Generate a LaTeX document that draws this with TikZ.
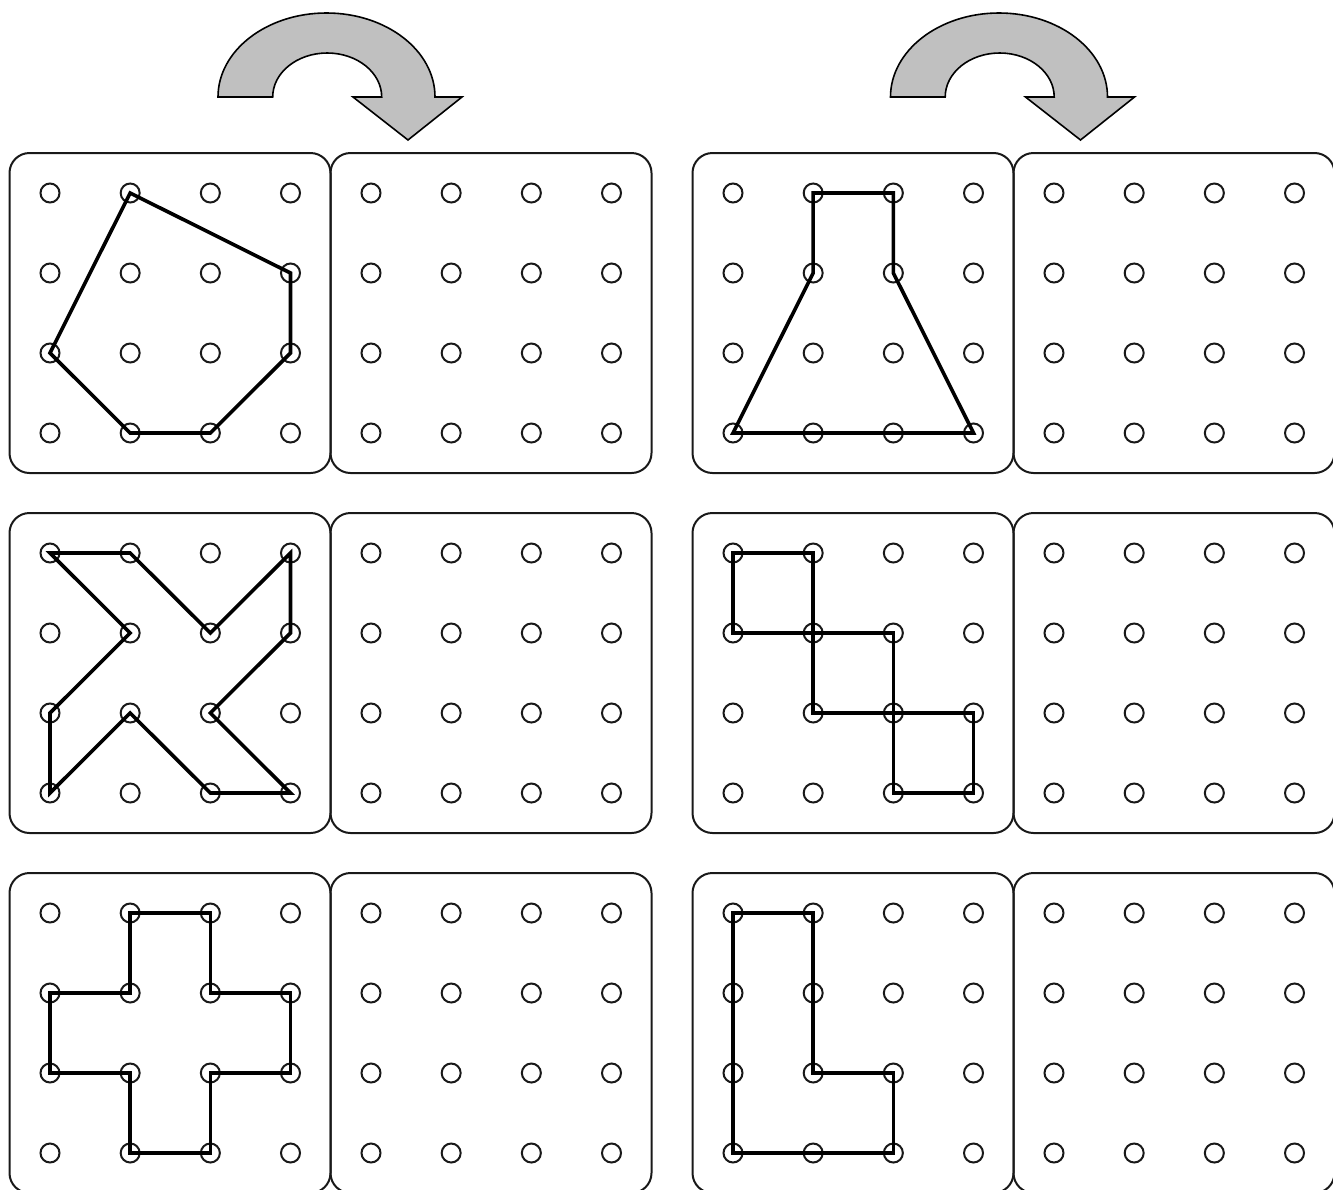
\documentclass[tikz,border=0pt]{standalone}
\usetikzlibrary{calc}
\definecolor{arrowgray}{RGB}{192,192,192}
\begin{document}
\begin{tikzpicture}[x=1pt,y=-1pt,
  board/.style={draw=black!90,line width=2pt,rounded corners=20pt},
  peg/.style={circle,draw=black!90,line width=2pt,minimum size=19pt,inner sep=0pt},
  band/.style={draw=black,line width=3.6pt,line join=miter},
  turnarrow/.style={draw=black,line width=1.6pt,fill=arrowgray,line join=miter}]
\useasboundingbox (0,0) rectangle (1333,1189);
\clip (0,0) rectangle (1333,1189);
% curved arrows
\foreach \dx in {0,672.5}{
\begin{scope}[xshift=\dx pt]
\draw[turnarrow] (218,97)
  .. controls (218,50.6) and (266.6,13) .. (326.5,13)
  .. controls (386.4,13) and (435,50.6) .. (435,97)
  -- (462,97) -- (408,140) -- (353,97) -- (381.7,97)
  .. controls (381.7,72.7) and (357.3,53) .. (327.2,53)
  .. controls (297.1,53) and (272.7,72.7) .. (272.7,97)
  -- cycle;
\end{scope}}
% boards and pegs
\foreach \n/\L/\T in {A1/9.5/153, A2/330.5/153, B1/692.5/153, B2/1013.5/153,
                      C1/9.5/513, C2/330.5/513, D1/692.5/513, D2/1013.5/513,
                      E1/9.5/873, E2/330.5/873, F1/692.5/873, F2/1013.5/873}{
  \draw[board] (\L,\T) rectangle ++(321,320);
  \foreach \c in {0,1,2,3}{
    \foreach \r in {0,1,2,3}{
      \node[peg] (\n-\c-\r) at ({\L+40.5+80.17*\c},{\T+40+80*\r}) {};
    }
  }
}
% heptagon
\draw[band] (A1-1-0.center) -- (A1-3-1.center) -- (A1-3-2.center) -- (A1-2-3.center)
  -- (A1-1-3.center) -- (A1-0-2.center) -- cycle;
% flask
\draw[band] (B1-1-0.center) -- (B1-2-0.center) -- (B1-2-1.center) -- (B1-3-3.center)
  -- (B1-0-3.center) -- (B1-1-1.center) -- cycle;
% X shape
\draw[band] (C1-0-0.center) -- (C1-1-0.center) -- (C1-2-1.center) -- (C1-3-0.center)
  -- (C1-3-1.center) -- (C1-2-2.center) -- (C1-3-3.center) -- (C1-2-3.center)
  -- (C1-1-2.center) -- (C1-0-3.center) -- (C1-0-2.center) -- (C1-1-1.center) -- cycle;
% stairs of squares
\draw[band] (D1-0-0.center) -- (D1-1-0.center) -- (D1-1-1.center) -- (D1-2-1.center)
  -- (D1-2-2.center) -- (D1-3-2.center) -- (D1-3-3.center) -- (D1-2-3.center)
  -- (D1-2-2.center) -- (D1-1-2.center) -- (D1-1-1.center) -- (D1-0-1.center) -- cycle;
% plus
\draw[band] (E1-1-0.center) -- (E1-2-0.center) -- (E1-2-1.center) -- (E1-3-1.center)
  -- (E1-3-2.center) -- (E1-2-2.center) -- (E1-2-3.center) -- (E1-1-3.center)
  -- (E1-1-2.center) -- (E1-0-2.center) -- (E1-0-1.center) -- (E1-1-1.center) -- cycle;
% L shape
\draw[band] (F1-0-0.center) -- (F1-1-0.center) -- (F1-1-2.center) -- (F1-2-2.center)
  -- (F1-2-3.center) -- (F1-0-3.center) -- cycle;
\end{tikzpicture}
\end{document}
